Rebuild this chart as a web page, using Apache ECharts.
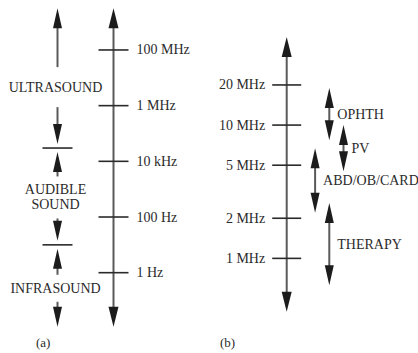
<!DOCTYPE html>
<html>
<head>
<meta charset="utf-8">
<script src="https://cdn.jsdelivr.net/npm/echarts@6/dist/echarts.min.js"></script>
<style>html,body{margin:0;padding:0;background:#fff}#c{width:418px;height:353px}</style>
</head>
<body>
<div id="c"></div>
<script>
// ---- data ----
const TICKS_A_HZ = [1, 100, 1e4, 1e6, 1e8];
const TICK_LABELS_A = ['1 Hz', '100 Hz', '10 kHz', '1 MHz', '100 MHz'];
const BOUNDARIES_A_HZ = [10, 3e4];
const BANDS_A = ['INFRASOUND', 'AUDIBLE\nSOUND', 'ULTRASOUND'];
const TICKS_B_MHZ = [1, 2, 5, 10, 20];
const TICK_LABELS_B = ['1 MHz', '2 MHz', '5 MHz', '10 MHz', '20 MHz'];
const APPS_B = ['OPHTH', 'PV', 'ABD/OB/CARD', 'THERAPY'];
const APPS_B_LOW_MHZ = [7.7, 4.5, 2.2, 0.63];
const APPS_B_HIGH_MHZ = [19, 10, 6.7, 2.6];

// ---- layout / style ----
const FONT = '"Liberation Serif","DejaVu Serif",serif';
const FS = 14;
const TXT = '#2b2b2b';
const SHAFT = '#5a5a5a';
const HEAD = '#1c1c1c';
const A_MIN = -1.94, A_MAX = 9.5;     // log10(Hz)
const B_MIN = -0.4, B_MAX = 1.66;     // log10(MHz)
const LANE_B = {'OPHTH': 3, 'PV': 4, 'ABD/OB/CARD': 2, 'THERAPY': 3};
const GAP_A = {'ULTRASOUND': 20, 'AUDIBLE\nSOUND': 21, 'INFRASOUND': 13.5};
const SHIFT_A = {'ULTRASOUND': 11, 'AUDIBLE\nSOUND': 1, 'INFRASOUND': 0.5};

const lg = Math.log10;

function head(x, tipY, dir, w, len) {
  return {type: 'polygon', shape: {points: [[x, tipY], [x - w / 2, tipY - dir * len], [x + w / 2, tipY - dir * len]]},
          style: {fill: HEAD}};
}
function shaft(x, y1, y2, lw) {
  return {type: 'line', shape: {x1: x, y1: y1, x2: x, y2: y2}, style: {stroke: SHAFT, lineWidth: lw || 2}};
}
function hline(cx, y, half) {
  return {type: 'line', shape: {x1: cx - half, y1: y, x2: cx + half, y2: y}, style: {stroke: '#2a2a2a', lineWidth: 1.6}};
}

function mainAxis(params, api) {
  const b = api.coord([api.value(0), api.value(1)]);
  const t = api.coord([api.value(0), api.value(2)]);
  const x = b[0];
  return {type: 'group', children: [
    shaft(x, t[1] + 15, b[1] - 15, 2),
    head(x, t[1], -1, 10, 20),
    head(x, b[1], 1, 10, 20)
  ]};
}
function tickItem(half) {
  return function (params, api) {
    const p = api.coord([api.value(0), api.value(1)]);
    return hline(p[0], p[1], half);
  };
}
function labelOf(vals, labels) {
  return function (v) {
    for (let i = 0; i < vals.length; i++) if (Math.abs(lg(vals[i]) - v) < 1e-6) return labels[i];
    return '';
  };
}

const bandData = BANDS_A.map((name, i) => [0,
  i === 0 ? A_MIN : lg(BOUNDARIES_A_HZ[i - 1]),
  i === BANDS_A.length - 1 ? A_MAX : lg(BOUNDARIES_A_HZ[i]),
  i === 0 ? 0 : 4,
  i === BANDS_A.length - 1 ? 0 : 4]);

function bandItem(params, api) {
  const name = BANDS_A[params.dataIndex];
  const pl = api.coord([api.value(0), api.value(1)]);
  const ph = api.coord([api.value(0), api.value(2)]);
  const x = pl[0];
  const yb = pl[1] - api.value(3);
  const yt = ph[1] + api.value(4);
  const cy = (yb + yt) / 2 + SHIFT_A[name];
  const g = GAP_A[name];
  return {type: 'group', children: [
    shaft(x, yt + 16, cy - g, 2),
    shaft(x, cy + g, yb - 16, 2),
    head(x, yt, -1, 9, 20),
    head(x, yb, 1, 9, 20),
    {type: 'text', style: {text: name, x: x - 2, y: cy, align: 'center', verticalAlign: 'middle',
      fontFamily: FONT, fontSize: FS, lineHeight: 15, fill: TXT}}
  ]};
}

const appData = APPS_B.map((n, i) => [LANE_B[n], lg(APPS_B_LOW_MHZ[i]), lg(APPS_B_HIGH_MHZ[i])]);
function appItem(params, api) {
  const name = APPS_B[params.dataIndex];
  const pl = api.coord([api.value(0), api.value(1)]);
  const ph = api.coord([api.value(0), api.value(2)]);
  const x = pl[0], yb = pl[1], yt = ph[1];
  return {type: 'group', children: [
    shaft(x, yt + 16, yb - 16, 2),
    head(x, yt, -1, 9, 20),
    head(x, yb, 1, 9, 20),
    {type: 'text', style: {text: name, x: x + 8, y: (yt + yb) / 2, align: 'left', verticalAlign: 'middle',
      fontFamily: FONT, fontSize: FS, fill: TXT}}
  ]};
}

const hiddenX = (gi, max) => ({gridIndex: gi, type: 'value', min: 0, max: max, show: false});
const labelStyle = {fontFamily: FONT, fontSize: FS, color: TXT};

const option = {
  backgroundColor: '#fff',
  animation: false,
  title: [
    {text: '(a)', left: 36, top: 336, padding: 0, textStyle: {fontFamily: FONT, fontSize: 13, fontWeight: 'normal', color: TXT}},
    {text: '(b)', left: 220, top: 336, padding: 0, textStyle: {fontFamily: FONT, fontSize: 13, fontWeight: 'normal', color: TXT}}
  ],
  grid: [
    {left: 57.5, width: 56, top: 8.2, height: 318.5},
    {left: 286.7, width: 56.8, top: 37.1, height: 274.6}
  ],
  xAxis: [hiddenX(0, 1), hiddenX(1, 4)],
  yAxis: [
    {gridIndex: 0, type: 'value', min: A_MIN, max: A_MAX, position: 'right',
     axisLine: {show: false}, axisTick: {show: false}, splitLine: {show: false},
     axisLabel: Object.assign({customValues: TICKS_A_HZ.map(lg), formatter: labelOf(TICKS_A_HZ, TICK_LABELS_A),
       margin: 23, align: 'left'}, labelStyle)},
    {gridIndex: 1, type: 'value', min: B_MIN, max: B_MAX, position: 'left',
     axisLine: {show: false}, axisTick: {show: false}, splitLine: {show: false},
     axisLabel: Object.assign({customValues: TICKS_B_MHZ.map(lg), formatter: labelOf(TICKS_B_MHZ, TICK_LABELS_B),
       margin: 21.5, align: 'right'}, labelStyle)}
  ],
  series: [
    {type: 'custom', xAxisIndex: 0, yAxisIndex: 0, clip: false, silent: true, renderItem: mainAxis, data: [[1, A_MIN, A_MAX]]},
    {type: 'custom', xAxisIndex: 0, yAxisIndex: 0, clip: false, silent: true, renderItem: tickItem(15), data: TICKS_A_HZ.map(v => [1, lg(v)])},
    {type: 'custom', xAxisIndex: 0, yAxisIndex: 0, clip: false, silent: true, renderItem: tickItem(15), data: BOUNDARIES_A_HZ.map(v => [0, lg(v)])},
    {type: 'custom', xAxisIndex: 0, yAxisIndex: 0, clip: false, silent: true, renderItem: bandItem, data: bandData},
    {type: 'custom', xAxisIndex: 1, yAxisIndex: 1, clip: false, silent: true, renderItem: mainAxis, data: [[0, B_MIN, B_MAX]]},
    {type: 'custom', xAxisIndex: 1, yAxisIndex: 1, clip: false, silent: true, renderItem: tickItem(14.5), data: TICKS_B_MHZ.map(v => [0, lg(v)])},
    {type: 'custom', xAxisIndex: 1, yAxisIndex: 1, clip: false, silent: true, renderItem: appItem, data: appData}
  ]
};
const chart = echarts.init(document.getElementById('c'), null, {renderer: 'svg'});
chart.setOption(option);
</script>
</body>
</html>
